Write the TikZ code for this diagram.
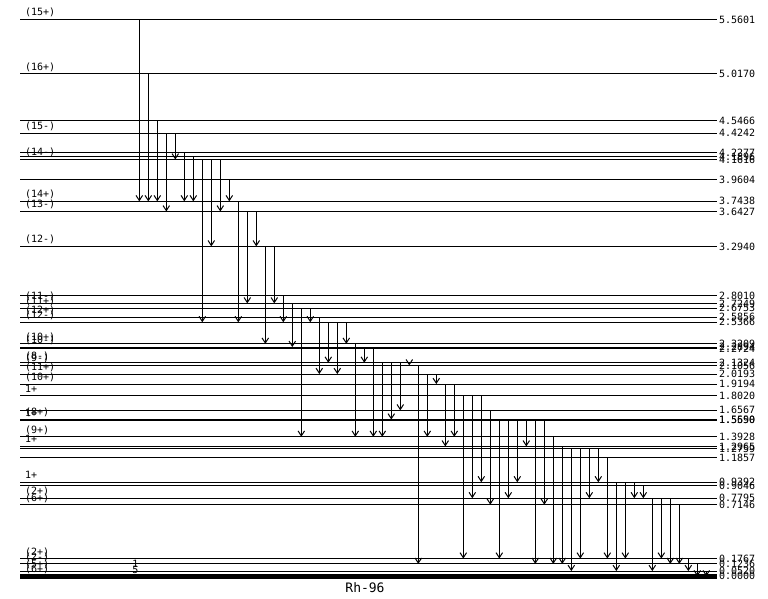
\documentclass[tikz,border=0pt]{standalone}
\usepackage{fontspec}
\setmonofont{DejaVu Sans Mono}
\usetikzlibrary{arrows.meta}
\begin{document}
\begin{tikzpicture}[x=1pt,y=1pt,
  lvl/.style={line width=1pt},
  gam/.style={line width=1pt,-{Straight Barb[length=5pt,width=6.5pt,line width=1pt]}},
  txt/.style={font=\ttfamily\fontsize{10}{12}\selectfont,anchor=base west,inner sep=0pt,outer sep=0pt}]
\useasboundingbox (0,0) rectangle (768,598);
% levels
\foreach \n/\e in {a/5.5601,b/5.0170,c/4.5466,d/4.4242,e/4.2277,f/4.1896,g/4.1616,h/3.9604,i/3.7438,j/3.6427,k/3.2940,l/2.8010,m/2.7249,n/2.6753,o/2.5856,p/2.5366,q/2.3209,r/2.2894,s/2.2724,t/2.1324,u/2.1056,v/2.0193,w/1.9194,x/1.8020,y/1.6567,z/1.5650,A/1.5590,B/1.3928,C/1.2965,D/1.2759,E/1.1857,F/0.9392,G/0.9046,H/0.7795,I/0.7146,J/0.1767,K/0.1236,L/0.0520,M/0.0000}{
  \coordinate (l\n) at (20,{21.7+100.15*\e});
  \draw[lvl] (l\n) -- (717,0 |- l\n);
  \path (l\n) ++(699,-3.6) node[txt] (r\n) {\e};
}
\draw[line width=4.5pt] (lM) ++(0,-0.3) coordinate (gM) -- (717,0 |- gM);
% spin labels
\foreach \n/\j in {a/(15+),b/(16+),d/(15-),g/(14-),i/(14+),j/(13-),k/(12-),m/(11-),n/(11+),o/(12+),p/(12-),q/(10+),r/(10-),t/(8-),u/(9-),v/(11+),w/(10+),x/1+,z/(8+),A/1+,B/(9+),C/1+,F/1+,H/(2+),I/(6+),J/(2+),K/(2-),L/(5+),M/(6+)}{
  \path (l\n) ++(5,3.6) node[txt] (j\n) {\j};
}
\node[txt,anchor=base] (m1) at (135.5,31) {1};
\node[txt,anchor=base] (m2) at (135.5,25) {5};
% transitions
\foreach \k/\f/\t in {0/a/i,1/b/i,2/c/i,3/d/j,4/d/g,5/e/i,6/f/i,7/g/p,8/g/k,9/g/j,10/h/i,11/i/p,12/j/m,13/j/k,14/k/q,15/k/m,16/l/p,17/m/r,18/n/B,19/n/p,20/o/v,21/p/t,22/p/v,23/p/q,24/q/B,25/r/t,26/s/B,27/t/B,28/t/z,29/t/y,30/t/u,31/u/K,32/v/B,33/v/w,34/w/C,35/w/B,36/x/J,37/x/H,38/x/F,39/y/I,40/z/J,41/z/H,42/z/F,43/z/C,44/z/K,45/z/I,46/B/K,47/C/K,48/D/L,49/D/J,50/D/H,51/D/F,52/E/J,53/F/L,54/F/J,55/F/H,56/G/H,57/H/L,58/H/J,59/H/K,60/I/K,61/J/L,62/K/M,63/L/M}{
  \pgfmathsetmacro{\xx}{139.3+9*\k}
  \draw[gam] (\xx,0 |- l\f) -- (\xx,0 |- l\t);
}
\node[font=\ttfamily\fontsize{13}{15}\selectfont,inner sep=0pt] (title) at (365,10) {Rh-96};
\end{tikzpicture}
\end{document}
